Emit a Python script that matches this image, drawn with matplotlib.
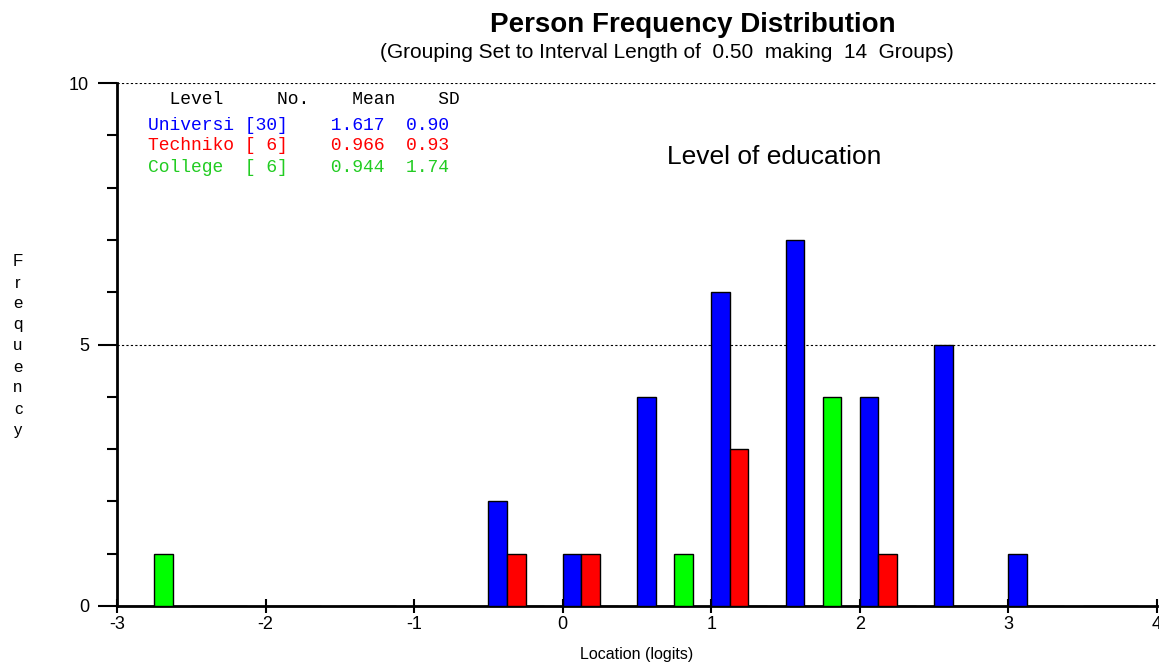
import matplotlib.pyplot as plt
import numpy as np
from matplotlib.ticker import MultipleLocator

# group starts (interval length 0.50, 14 groups)
group_start = np.arange(-3, 4, 0.5)
universi = [0, 0, 0, 0, 0, 2, 1, 4, 6, 7, 4, 5, 1, 0]
techniko = [0, 0, 0, 0, 0, 1, 1, 0, 3, 0, 1, 0, 0, 0]
college  = [1, 0, 0, 0, 0, 0, 0, 1, 0, 4, 0, 0, 0, 0]

table_header = "  Level     No.    Mean    SD"
table_rows = ["Universi [30]    1.617  0.90",
              "Techniko [ 6]    0.966  0.93",
              "College  [ 6]    0.944  1.74"]
row_colors = ["#0000ff", "#ff0000", "#22cc22"]

plt.rcParams['font.family'] = ['Liberation Sans', 'DejaVu Sans']
plt.rcParams['axes.unicode_minus'] = False

fig = plt.figure(figsize=(11.59, 6.70), dpi=100)
ax = fig.add_axes([117/1159, 1 - 606/670, (1157-117)/1159, (606-83)/670])

w = 0.125
ax.bar(group_start, universi, width=w, align='edge', color='#0000ff', edgecolor='black', linewidth=1, zorder=3)
ax.bar(group_start + w, techniko, width=w, align='edge', color='#ff0000', edgecolor='black', linewidth=1, zorder=3)
ax.bar(group_start + 2*w, college, width=w, align='edge', color='#00ff00', edgecolor='black', linewidth=1, zorder=3)

ax.set_xlim(-3, 4)
ax.set_ylim(0, 10)
for yv in [5, 10]:
    ax.axhline(yv, color='black', linestyle=(0, (2, 2)), linewidth=0.8, zorder=1)

ax.spines['top'].set_visible(False)
ax.spines['right'].set_visible(False)
ax.spines['left'].set_linewidth(2)
ax.spines['bottom'].set_linewidth(2)

ax.xaxis.set_major_locator(MultipleLocator(1))
ax.yaxis.set_minor_locator(MultipleLocator(1))
ax.set_yticks([0, 5, 10])
ax.set_yticklabels(['0', '5', '10'])
ax.tick_params(axis='x', direction='inout', length=10, width=1.5, labelsize=13, pad=2)
ax.tick_params(axis='y', which='major', direction='out', length=14, width=1.5, labelsize=13, pad=6)
ax.tick_params(axis='y', which='minor', direction='out', length=7, width=1.5)

ax.set_xlabel("Location (logits)", fontsize=11.5, labelpad=10)

fig.text(693/1159, 1 - 25/670, "Person Frequency Distribution", ha='center', va='center',
         fontsize=20, fontweight='bold')
fig.text(667/1159, 1 - 53/670, "(Grouping Set to Interval Length of  0.50  making  14  Groups)",
         ha='center', va='center', fontsize=15)
fig.text(667/1159, 1 - 157/670, "Level of education", ha='left', va='center', fontsize=19)

fig.text(18/1159, 1 - 346/670, "\n".join("Frequency"), ha='center', va='center',
         fontsize=12, linespacing=1.5)

mono = 'Liberation Mono'
fig.text(148/1159, 1 - 99/670, table_header, ha='left', va='center', family=mono, fontsize=13)
for i, (row, c) in enumerate(zip(table_rows, row_colors)):
    fig.text(148/1159, 1 - (125 + 21*i)/670, row, ha='left', va='center', family=mono,
             fontsize=13, color=c)

fig.savefig("out.png", dpi=100)
